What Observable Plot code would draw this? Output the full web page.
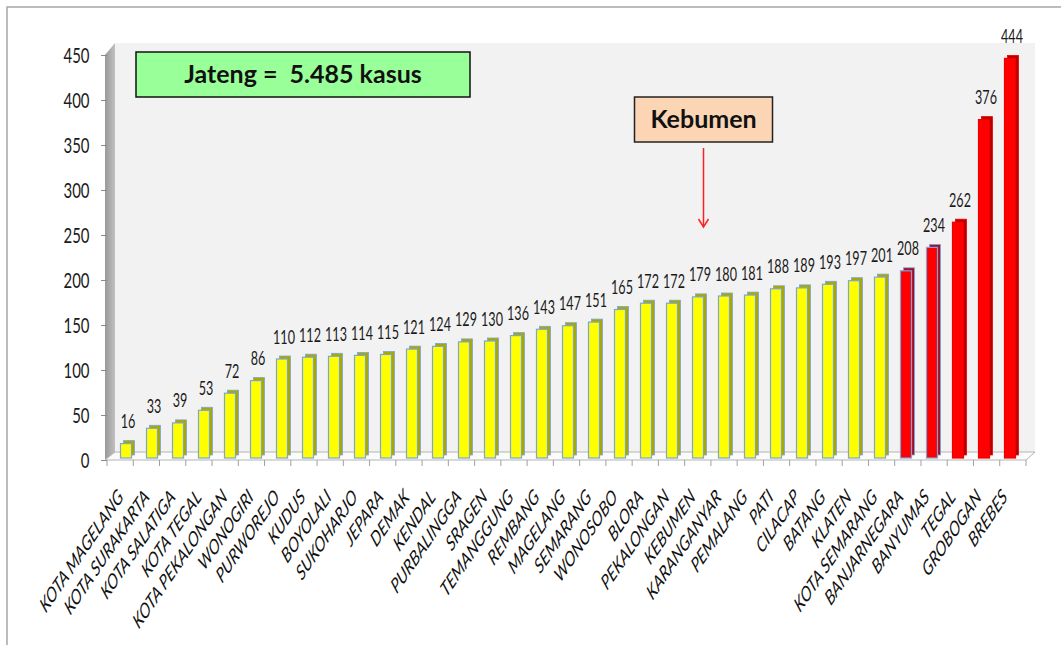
<!DOCTYPE html>
<html><head><meta charset="utf-8">
<script src="https://cdn.jsdelivr.net/npm/d3@7"></script>
<script src="https://cdn.jsdelivr.net/npm/@observablehq/plot@0.6"></script>
<style>html,body{margin:0;padding:0;background:#fff;} #chart svg{display:block;}</style>
</head><body><div id="chart"></div>
<script>
const categories = ["KOTA MAGELANG","KOTA SURAKARTA","KOTA SALATIGA","KOTA TEGAL","KOTA PEKALONGAN","WONOGIRI","PURWOREJO","KUDUS","BOYOLALI","SUKOHARJO","JEPARA","DEMAK","KENDAL","PURBALINGGA","SRAGEN","TEMANGGUNG","REMBANG","MAGELANG","SEMARANG","WONOSOBO","BLORA","PEKALONGAN","KEBUMEN","KARANGANYAR","PEMALANG","PATI","CILACAP","BATANG","KLATEN","KOTA SEMARANG","BANJARNEGARA","BANYUMAS","TEGAL","GROBOGAN","BREBES"];
const values = [16,33,39,53,72,86,110,112,113,114,115,121,124,129,130,136,143,147,151,165,172,172,179,180,181,188,189,193,197,201,208,234,262,376,444];
const tiers = ["normal","normal","normal","normal","normal","normal","normal","normal","normal","normal","normal","normal","normal","normal","normal","normal","normal","normal","normal","normal","normal","normal","normal","normal","normal","normal","normal","normal","normal","normal","alert","alert","peak","peak","peak"];
const yTicks = [0,50,100,150,200,250,300,350,400,450];
const totalText = "Jateng =  5.485 kasus";
const focusCategory = "KEBUMEN";
const focusText = "Kebumen";

const FONT = "Lato, 'Open Sans', sans-serif";
const SQUASH = 0.68;

const palette = {
  normal: {front: "#ffff00", side: "#a8a800", edge: "#7ba5d8"},
  alert:  {front: "#ff0000", side: "#a0102c", edge: "#7ba5d8"},
  peak:   {front: "#ff0000", side: "#b80000", edge: "#ee0000"}
};
const data = categories.map((name, i) => ({name, value: values[i], tier: tiers[i]}));

function walls(index, scales, vals, dims) {
  const x0 = dims.marginLeft, x1 = dims.width - dims.marginRight;
  const yb = scales.y(0), yt = scales.y(yTicks[yTicks.length - 1]);
  const g = d3.create("svg:g");
  const grad = g.append("defs").append("linearGradient").attr("id", "lw").attr("x1", 0).attr("x2", 1).attr("y1", 0).attr("y2", 0);
  grad.append("stop").attr("offset", "0%").attr("stop-color", "#999999");
  grad.append("stop").attr("offset", "100%").attr("stop-color", "#c0c0c0");
  g.append("path").attr("d", `M7,${dims.height}V7H${dims.width}`).attr("fill", "none").attr("stroke", "#a6a6a6").attr("stroke-width", 1.5);
  g.append("rect").attr("x", x0 + 8).attr("y", yt - 12).attr("width", x1 + 9 - (x0 + 8)).attr("height", (yb - 8) - (yt - 12)).attr("fill", "#f2f2f2");
  g.append("path").attr("d", `M${x0 - 2},${yt}L${x0 + 8},${yt - 12}V${yb - 8}L${x0 - 2},${yb}Z`).attr("fill", "url(#lw)");
  g.append("path").attr("d", `M${x0 - 2},${yb}L${x0 + 8},${yb - 8}H${x1 + 9}L${x1},${yb}Z`).attr("fill", "#fbfbfb").attr("stroke", "#b4b4b4");
  const step = (x1 - x0) / categories.length;
  for (let k = 0; k <= categories.length; ++k) {
    const xx = x0 + k * step;
    g.append("line").attr("x1", xx).attr("x2", xx).attr("y1", yb).attr("y2", yb + 6).attr("stroke", "#a0a0a0");
  }
  return g.node();
}

function annotations(index, scales, vals, dims) {
  const g = d3.create("svg:g");
  const bx = dims.marginLeft + 29;
  g.append("rect").attr("x", bx).attr("y", 52).attr("width", 334).attr("height", 45).attr("fill", "#99ff99").attr("stroke", "#111").attr("stroke-width", 1.5);
  g.append("text").attr("class", "keep").attr("x", bx + 167).attr("y", 83).attr("text-anchor", "middle").attr("font-family", FONT).attr("font-weight", "bold").attr("font-size", 25).attr("fill", "#111").style("white-space", "pre").text(totalText);
  const fx = scales.x(focusCategory) + scales.x.bandwidth() / 2 + 7;
  g.append("rect").attr("x", fx - 69).attr("y", 97).attr("width", 138).attr("height", 45).attr("fill", "#fcd5b4").attr("stroke", "#222").attr("stroke-width", 1.5);
  g.append("text").attr("class", "keep").attr("x", fx).attr("y", 128).attr("text-anchor", "middle").attr("font-family", FONT).attr("font-weight", "bold").attr("font-size", 25).attr("fill", "#111").text(focusText);
  g.append("line").attr("x1", fx).attr("x2", fx).attr("y1", 148).attr("y2", 226).attr("stroke", "#ff2020").attr("stroke-width", 1.5);
  g.append("path").attr("d", `M${fx - 5},${219}L${fx},${227}L${fx + 5},${219}`).attr("fill", "none").attr("stroke", "#ff2020").attr("stroke-width", 1.5);
  return g.node();
}

const plot = Plot.plot({
  width: 1061,
  height: 645,
  marginLeft: 107,
  marginRight: 35,
  marginTop: 55,
  marginBottom: 185,
  style: {background: "#ffffff", fontFamily: FONT},
  x: {domain: categories, paddingInner: 0.56, paddingOuter: 0.28, align: 0.5, axis: null},
  y: {domain: [0, 450], axis: null},
  marks: [
    walls,
    Plot.axisY({ticks: yTicks, label: null, tickSize: 6, tickPadding: 12, fontSize: 22, fontFamily: FONT, stroke: "#8a8a8a", color: "#1a1a1a", tickFormat: d => String(d)}),
    Plot.barY(data, {x: "name", y: "value", dx: 4.5, dy: -5, fill: d => palette[d.tier].side, stroke: d => palette[d.tier].edge, strokeWidth: 0.8}),
    Plot.barY(data, {x: "name", y: "value", dx: 1.5, dy: -2, fill: d => palette[d.tier].front, stroke: d => palette[d.tier].edge, strokeWidth: 1.2}),
    Plot.text(data, {x: "name", y: "value", text: d => String(d.value), dx: 3, dy: -18, lineAnchor: "bottom", fontSize: 18.5, fontFamily: FONT, fill: "#1a1a1a"}),
    Plot.text(data, {x: "name", y: d => 0, text: "name", rotate: -45, textAnchor: "end", lineAnchor: "middle", dx: -4, dy: 33, fontSize: 21, fontStyle: "italic", fontFamily: FONT, fill: "#111"}),
    annotations
  ]
});

// the source chart is horizontally compressed: squash chart texts around their anchors
plot.querySelectorAll("text").forEach(t => {
  if (t.classList.contains("keep")) return;
  const tr = t.getAttribute("transform") || "";
  const m = tr.match(/^\s*translate\(([^)]*)\)(.*)$/);
  if (m) {
    t.setAttribute("transform", `translate(${m[1]}) scale(${SQUASH},1)${m[2]}`);
  } else {
    const x = +(t.getAttribute("x") || 0), y = +(t.getAttribute("y") || 0);
    t.removeAttribute("x"); t.removeAttribute("y");
    t.setAttribute("transform", `translate(${x},${y}) scale(${SQUASH},1)${tr ? " " + tr : ""}`);
  }
});
document.getElementById("chart").appendChild(plot);
</script>
</body></html>
